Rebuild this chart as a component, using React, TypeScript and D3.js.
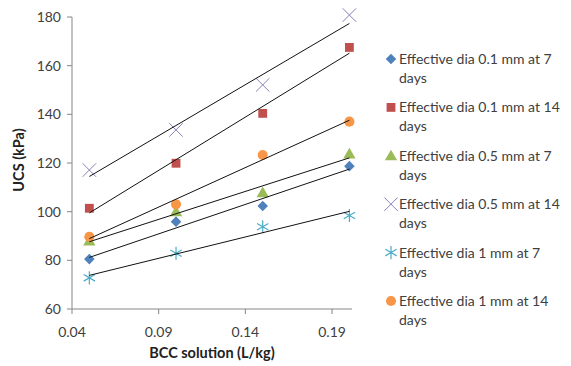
import * as d3 from "d3";

const xVals = [0.05, 0.1, 0.15, 0.2];
const xTicks = [0.04, 0.09, 0.14, 0.19];
const yTicks = [60, 80, 100, 120, 140, 160, 180];

const seriesNames = [
  "Effective dia 0.1 mm at 7 days",
  "Effective dia 0.1 mm at 14 days",
  "Effective dia 0.5 mm at 7 days",
  "Effective dia 0.5 mm at 14 days",
  "Effective dia 1 mm at 7 days",
  "Effective dia 1 mm at 14 days",
];
const dia01d7 = [80.5, 95.9, 102.3, 118.7];
const dia01d14 = [101.4, 119.9, 140.4, 167.5];
const dia05d7 = [88.0, 100.0, 107.8, 123.7];
const dia05d14 = [117.1, 133.6, 152.1, 180.8];
const dia1d7 = [72.8, 82.9, 93.8, 98.4];
const dia1d14 = [89.7, 103.0, 123.3, 137.0];

const colors = ["#4F81BD", "#C0504D", "#9BBB59", "#8A80B8", "#4BACC6", "#F79646"];
const allValues = [dia01d7, dia01d14, dia05d7, dia05d14, dia1d7, dia1d14];

const W = 571;
const H = 366;
const left = 72;
const right = 352;
const top = 17;
const bottom = 309;
const font = "Lato, 'Open Sans', sans-serif";

// least squares line, like the excel trendline
function fit(ys: number[]) {
  const mx = d3.mean(xVals)!;
  const my = d3.mean(ys)!;
  let num = 0;
  let den = 0;
  xVals.forEach((x, i) => {
    num += (x - mx) * (ys[i] - my);
    den += (x - mx) * (x - mx);
  });
  const b = num / den;
  return (x: number) => my + b * (x - mx);
}

function Marker({ kind, color }: { kind: number; color: string }) {
  if (kind === 0) {
    const p = d3.symbol(d3.symbolSquare, 56)()!;
    return <path d={p} fill={color} transform="rotate(45)" />;
  }
  if (kind === 1) return <path d={d3.symbol(d3.symbolSquare, 78)()!} fill={color} />;
  if (kind === 2) return <path d={d3.symbol(d3.symbolTriangle, 66)()!} fill={color} transform="translate(0,1)" />;
  if (kind === 3)
    return <path d={d3.symbol(d3.symbolTimes, 120)()!} fill="none" stroke={color} strokeWidth={1} />;
  if (kind === 4)
    return <path d={d3.symbol(d3.symbolAsterisk, 120)()!} fill="none" stroke={color} strokeWidth={1.2} />;
  return <path d={d3.symbol(d3.symbolCircle, 80)()!} fill={color} />;
}

export default function App() {
  const x = d3.scaleLinear().domain([0.04, 0.2015]).range([left, right]);
  const y = d3.scaleLinear().domain([60, 180]).range([bottom, top]);
  const fmt = d3.format(".2f");

  return (
    <svg width={W} height={H} style={{ position: "absolute", left: 0, top: 0, background: "#fff" }}>
      {/* axes */}
      <line x1={left} x2={left} y1={top} y2={bottom} stroke="#868686" />
      <line x1={left} x2={right} y1={bottom} y2={bottom} stroke="#868686" />
      {yTicks.map((t) => (
        <g key={t}>
          <line x1={left - 5} x2={left} y1={y(t)} y2={y(t)} stroke="#868686" />
          <text x={left - 11} y={y(t)} dy="0.35em" textAnchor="end" fontSize={14} fontFamily={font} fill="#404040">
            {t}
          </text>
        </g>
      ))}
      {xTicks.map((t) => (
        <g key={t}>
          <line x1={x(t)} x2={x(t)} y1={bottom} y2={bottom + 5} stroke="#868686" />
          <text x={x(t)} y={bottom + 23} dy="0.35em" textAnchor="middle" fontSize={14} fontFamily={font} fill="#404040">
            {fmt(t)}
          </text>
        </g>
      ))}
      <text x={212} y={353} dy="0.35em" textAnchor="middle" fontSize={14.5} fontWeight="bold" fontFamily={font} fill="#222">
        BCC solution (L/kg)
      </text>
      <text
        transform={`translate(19,160) rotate(-90)`}
        dy="0.35em"
        textAnchor="middle"
        fontSize={14.5}
        fontWeight="bold"
        fontFamily={font}
        fill="#222"
      >
        UCS (kPa)
      </text>

      {/* markers */}
      {allValues.map((ys, si) =>
        ys.map((v, i) => (
          <g key={`${si}-${i}`} transform={`translate(${x(xVals[i])},${y(v)})`}>
            <Marker kind={si} color={colors[si]} />
          </g>
        ))
      )}

      {/* linear trendlines */}
      {allValues.map((ys, si) => {
        const f = fit(ys);
        const x0 = xVals[0];
        const x1 = xVals[xVals.length - 1];
        return (
          <line key={si} x1={x(x0)} y1={y(f(x0))} x2={x(x1)} y2={y(f(x1))} stroke="#111" strokeWidth={1} />
        );
      })}

      {/* legend */}
      {seriesNames.map((name, si) => {
        const words = name.split(" ");
        const line1 = words.slice(0, -1).join(" ");
        const line2 = words[words.length - 1];
        const ly = 59 + si * 48.4;
        return (
          <g key={name}>
            <g transform={`translate(391,${ly})`}>
              <Marker kind={si} color={colors[si]} />
            </g>
            <text x={399} y={ly} dy="0.35em" fontSize={14} fontFamily={font} fill="#404040">
              {line1}
            </text>
            <text x={399} y={ly + 19} dy="0.35em" fontSize={14} fontFamily={font} fill="#404040">
              {line2}
            </text>
          </g>
        );
      })}
    </svg>
  );
}
